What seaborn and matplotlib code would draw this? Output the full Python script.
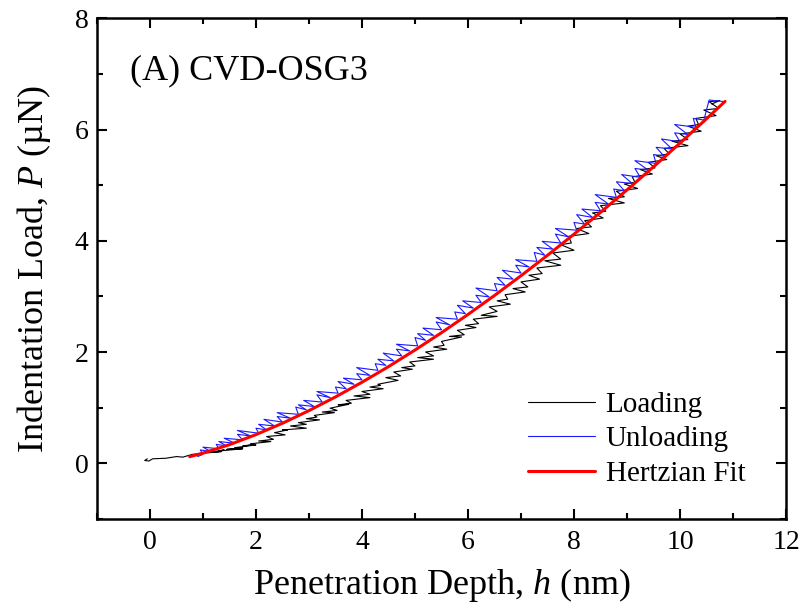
import matplotlib
matplotlib.use("Agg")
import matplotlib.pyplot as plt
import seaborn as sns
import pandas as pd
from matplotlib.ticker import MultipleLocator

# ---- data ----
loading_h = [-0.05, -0.1, -0.02, 0.05, 0.3, 0.5, 0.62, 0.8, 0.9,
             1.0, 1.35, 1.15, 1.4, 1.3, 1.75, 1.45, 1.75, 1.6, 2.0, 1.75, 1.95,
             1.9, 2.28, 2.05, 2.33, 2.2, 2.55, 2.35, 2.6, 2.5, 2.95, 2.65, 2.95,
             2.8, 3.2, 2.95, 3.15, 3.1, 3.48, 3.25, 3.53, 3.4, 3.75, 3.55, 3.8,
             3.7, 4.15, 3.85, 4.15, 4.0, 4.4, 4.15, 4.35, 4.3, 4.68, 4.45, 4.73,
             4.6, 4.95, 4.75, 5.0, 4.9, 5.35, 5.05, 5.35, 5.2, 5.6, 5.35, 5.55,
             5.5, 5.88, 5.65, 5.93, 5.8, 6.15, 5.95, 6.2, 6.1, 6.55, 6.25, 6.55,
             6.4, 6.8, 6.55, 6.75, 6.7, 7.08, 6.85, 7.13, 7.0, 7.35, 7.15, 7.4,
             7.3, 7.75, 7.45, 7.75, 7.6, 8.0, 7.75, 7.95, 7.9, 8.28, 8.05, 8.33,
             8.2, 8.55, 8.35, 8.6, 8.5, 8.95, 8.65, 8.95, 8.8, 9.2, 8.95, 9.15,
             9.1, 9.48, 9.25, 9.53, 9.4, 9.75, 9.55, 9.8, 9.7, 10.15, 9.85, 10.15,
             10.0, 10.4, 10.15, 10.35, 10.3, 10.68, 10.45, 10.73, 10.55, 10.75, 10.6]
loading_p = [0.08, 0.05, 0.04, 0.08, 0.09, 0.12, 0.11, 0.16, 0.17,
             0.18, 0.21, 0.20, 0.24, 0.22, 0.26, 0.25, 0.28, 0.28, 0.33, 0.31, 0.34,
             0.35, 0.39, 0.40, 0.43, 0.48, 0.51, 0.55, 0.60, 0.60, 0.63, 0.67, 0.70,
             0.73, 0.78, 0.80, 0.83, 0.86, 0.91, 0.92, 0.95, 0.99, 1.06, 1.05, 1.08,
             1.13, 1.18, 1.21, 1.24, 1.29, 1.34, 1.37, 1.40, 1.42, 1.49, 1.54, 1.57,
             1.64, 1.69, 1.72, 1.75, 1.82, 1.87, 1.90, 1.93, 2.00, 2.05, 2.09, 2.12,
             2.19, 2.27, 2.28, 2.31, 2.39, 2.44, 2.48, 2.51, 2.59, 2.64, 2.66, 2.73,
             2.81, 2.86, 2.92, 2.95, 3.03, 3.08, 3.14, 3.17, 3.26, 3.31, 3.38, 3.41,
             3.51, 3.56, 3.64, 3.67, 3.78, 3.83, 3.93, 3.96, 4.08, 4.13, 4.22, 4.25,
             4.36, 4.41, 4.50, 4.53, 4.63, 4.68, 4.76, 4.79, 4.89, 4.94, 5.02, 5.05,
             5.15, 5.20, 5.28, 5.31, 5.41, 5.46, 5.53, 5.56, 5.66, 5.71, 5.79, 5.82,
             5.92, 5.97, 6.06, 6.09, 6.20, 6.25, 6.35, 6.38, 6.50, 6.52, 6.46]

unloading_h = [10.85, 10.55, 10.45, 10.25, 10.3, 9.9, 10.15, 9.9, 10.0, 9.65,
               9.85, 9.55, 9.7, 9.5, 9.55, 9.15, 9.4, 9.15, 9.25, 8.9, 9.1, 8.8,
               8.95, 8.75, 8.8, 8.4, 8.65, 8.4, 8.5, 8.15, 8.35, 8.05, 8.2, 8.0,
               8.05, 7.65, 7.9, 7.65, 7.75, 7.4, 7.6, 7.3, 7.45, 7.25, 7.3, 6.9,
               7.15, 6.9, 7.0, 6.65, 6.85, 6.55, 6.7, 6.5, 6.55, 6.15, 6.4, 6.15,
               6.25, 5.9, 6.1, 5.8, 5.95, 5.75, 5.8, 5.4, 5.65, 5.4, 5.5, 5.15,
               5.35, 5.05, 5.2, 5.0, 5.05, 4.65, 4.9, 4.65, 4.75, 4.4, 4.6, 4.3,
               4.45, 4.25, 4.3, 3.9, 4.15, 3.9, 4.0, 3.65, 3.85, 3.55, 3.7, 3.5,
               3.55, 3.15, 3.4, 3.15, 3.25, 2.9, 3.1, 2.8, 2.95, 2.75, 2.8, 2.4,
               2.65, 2.4, 2.5, 2.15, 2.35, 2.05, 2.2, 2.0, 2.05, 1.65, 1.9, 1.65,
               1.75, 1.4, 1.6, 1.3, 1.45, 1.25, 1.3, 1.0, 1.15, 0.95, 1.0, 0.9]
unloading_p = [6.50, 6.53, 6.17, 6.20, 6.04, 6.09, 5.91, 5.94, 5.78, 5.83,
               5.65, 5.68, 5.52, 5.55, 5.39, 5.44, 5.27, 5.30, 5.14, 5.19, 5.03, 5.06,
               4.90, 4.93, 4.78, 4.83, 4.66, 4.69, 4.54, 4.57, 4.42, 4.47, 4.30, 4.33,
               4.19, 4.22, 4.07, 4.12, 3.96, 3.99, 3.85, 3.88, 3.74, 3.79, 3.63, 3.66,
               3.53, 3.56, 3.42, 3.47, 3.31, 3.34, 3.20, 3.23, 3.10, 3.15, 2.99, 3.02,
               2.89, 2.92, 2.79, 2.84, 2.69, 2.72, 2.59, 2.62, 2.49, 2.54, 2.40, 2.43,
               2.30, 2.33, 2.21, 2.26, 2.11, 2.14, 2.02, 2.05, 1.93, 1.98, 1.84, 1.87,
               1.76, 1.79, 1.67, 1.72, 1.58, 1.61, 1.50, 1.53, 1.42, 1.47, 1.34, 1.37,
               1.26, 1.29, 1.18, 1.23, 1.10, 1.13, 1.02, 1.05, 0.96, 1.01, 0.88, 0.91,
               0.81, 0.84, 0.74, 0.79, 0.67, 0.70, 0.60, 0.63, 0.54, 0.59, 0.49, 0.52,
               0.42, 0.45, 0.36, 0.39, 0.31, 0.34, 0.26, 0.29, 0.21, 0.24, 0.16, 0.12]

fit_h = [0.75, 1.0, 1.5, 2.0, 2.5, 3.0, 3.5, 4.0, 4.5, 5.0, 5.5, 6.0, 6.5,
         7.0, 7.5, 8.0, 8.5, 9.0, 9.5, 10.0, 10.5, 10.85]
fit_p = [0.118, 0.182, 0.334, 0.515, 0.719, 0.946, 1.192, 1.456, 1.737, 2.035,
         2.347, 2.675, 3.016, 3.371, 3.738, 4.118, 4.510, 4.914, 5.329, 5.755,
         6.193, 6.505]

title_text = "(A) CVD-OSG3"
series_labels = ["Loading", "Unloading", "Hertzian Fit"]

# ---- style ----
sns.set_style("ticks")
plt.rcParams["font.family"] = ["Liberation Serif", "DejaVu Serif"]
plt.rcParams["mathtext.fontset"] = "custom"
plt.rcParams["mathtext.rm"] = "Liberation Serif"
plt.rcParams["mathtext.it"] = "Liberation Serif:italic"
plt.rcParams["text.color"] = "black"
plt.rcParams["axes.labelcolor"] = "black"
plt.rcParams["xtick.color"] = "black"
plt.rcParams["ytick.color"] = "black"
plt.rcParams["axes.edgecolor"] = "black"

fig = plt.figure(figsize=(8.04, 6.09), dpi=100)
ax = fig.add_axes([0.1206, 0.148, 0.857, 0.822])

df_l = pd.DataFrame({"h": loading_h, "P": loading_p})
df_u = pd.DataFrame({"h": unloading_h, "P": unloading_p})
df_f = pd.DataFrame({"h": fit_h, "P": fit_p})

sns.lineplot(data=df_l, x="h", y="P", sort=False, estimator=None, ax=ax,
             color="black", lw=0.8, label=series_labels[0])
sns.lineplot(data=df_u, x="h", y="P", sort=False, estimator=None, ax=ax,
             color="#1a1aff", lw=0.8, label=series_labels[1])
sns.lineplot(data=df_f, x="h", y="P", sort=False, estimator=None, ax=ax,
             color="#ff0000", lw=2.2, label=series_labels[2])

ax.set_xlim(-1, 12)
ax.set_ylim(-1, 8)
ax.xaxis.set_major_locator(MultipleLocator(2))
ax.xaxis.set_minor_locator(MultipleLocator(1))
ax.yaxis.set_major_locator(MultipleLocator(2))
ax.yaxis.set_minor_locator(MultipleLocator(1))
ax.tick_params(which="both", direction="in", top=True, right=True,
               labelsize=20, width=1.5)
ax.tick_params(axis="x", which="major", pad=8)
ax.tick_params(axis="y", which="major", pad=6)
ax.tick_params(which="major", length=7)
ax.tick_params(which="minor", length=4)
for s in ax.spines.values():
    s.set_linewidth(1.8)

ax.set_xlabel("Penetration Depth, $\\it{h}$ (nm)", fontsize=26, labelpad=8)
ax.set_ylabel("Indentation Load, $\\it{P}$ (µN)", fontsize=26, labelpad=16)

ax.text(0.048, 0.896, title_text, transform=ax.transAxes, fontsize=26,
        va="center", ha="left")

leg = ax.legend(loc="upper left", bbox_to_anchor=(0.626, 0.254), frameon=False,
                fontsize=21, handlelength=2.3, handletextpad=0.35,
                labelspacing=0.27, borderaxespad=0, borderpad=0)

fig.savefig("out.png", dpi=100)
